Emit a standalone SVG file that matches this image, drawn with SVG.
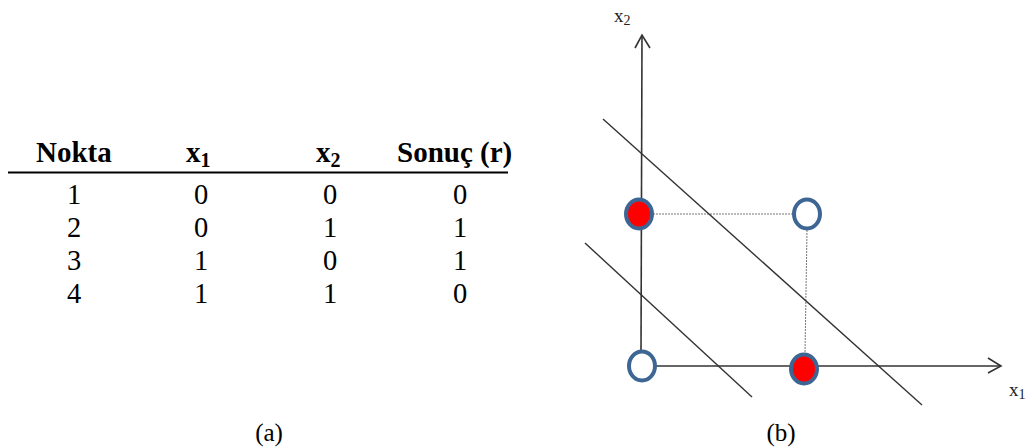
<svg xmlns="http://www.w3.org/2000/svg" width="1028" height="448" viewBox="0 0 1028 448">
<style>
.h{font-family:"Liberation Serif","Times New Roman",serif;font-weight:bold;font-size:29px;fill:#000}
.d{font-family:"Liberation Serif","Times New Roman",serif;font-size:28.5px;fill:#000;text-anchor:middle}
.lab{font-family:"Liberation Serif","Times New Roman",serif;font-size:19px;fill:#222}
.cap{font-family:"Liberation Serif","Times New Roman",serif;font-size:25px;fill:#000;text-anchor:middle}
.pt{stroke:#3d6694;stroke-width:4}
.ax{stroke:#333;stroke-width:1.6;fill:none}
.dl{stroke:#333;stroke-width:1.4;fill:none}
.dot{stroke:#777;stroke-width:1;stroke-dasharray:2 1;fill:none}
</style>
<g id="table">
<text class="h" x="36" y="162">Nokta</text>
<text class="h" x="186" y="162">x<tspan font-size="20" dy="5">1</tspan></text>
<text class="h" x="316" y="162">x<tspan font-size="20" dy="5">2</tspan></text>
<text class="h" x="397" y="162">Sonuç (r)</text>
<line x1="8" y1="172.5" x2="508" y2="172.5" stroke="#000" stroke-width="2.2"/>
<text class="d" x="74" y="204">1</text><text class="d" x="201" y="204">0</text><text class="d" x="330" y="204">0</text><text class="d" x="460" y="204">0</text>
<text class="d" x="74" y="237">2</text><text class="d" x="201" y="237">0</text><text class="d" x="330" y="237">1</text><text class="d" x="460" y="237">1</text>
<text class="d" x="74" y="270">3</text><text class="d" x="201" y="270">1</text><text class="d" x="330" y="270">0</text><text class="d" x="460" y="270">1</text>
<text class="d" x="74" y="303">4</text><text class="d" x="201" y="303">1</text><text class="d" x="330" y="303">1</text><text class="d" x="460" y="303">0</text>
<text class="cap" x="269" y="441">(a)</text>
</g>
<g id="connectors">
<line class="ax" x1="642" y1="35" x2="641" y2="352"/>
<polyline class="ax" points="635,48 642,35 650,48"/>
<line class="ax" x1="656" y1="366" x2="1001" y2="366"/>
<polyline class="ax" points="988,358 1001,366 988,373"/>
<line class="dot" x1="653" y1="214" x2="793" y2="214"/>
<line class="dot" x1="807" y1="230" x2="805" y2="354"/>
<line class="dl" x1="603" y1="119" x2="922" y2="405"/>
<line class="dl" x1="585" y1="243" x2="752" y2="397"/>
</g>
<g id="p2"><ellipse class="pt" cx="639" cy="214" rx="13" ry="14.5" fill="#f00"/></g>
<g id="p4"><ellipse class="pt" cx="807" cy="214" rx="13" ry="14.5" fill="#fff"/></g>
<g id="p1"><ellipse class="pt" cx="642" cy="366" rx="13" ry="14.5" fill="#fff"/></g>
<g id="p3"><ellipse class="pt" cx="804" cy="369" rx="13" ry="14.5" fill="#f00"/></g>
<g id="labels">
<text class="lab" x="614" y="22">x<tspan font-size="14" dy="3">2</tspan></text>
<text class="lab" x="1009" y="396">x<tspan font-size="14" dy="3">1</tspan></text>
<text class="cap" x="781" y="441">(b)</text>
</g>
</svg>
